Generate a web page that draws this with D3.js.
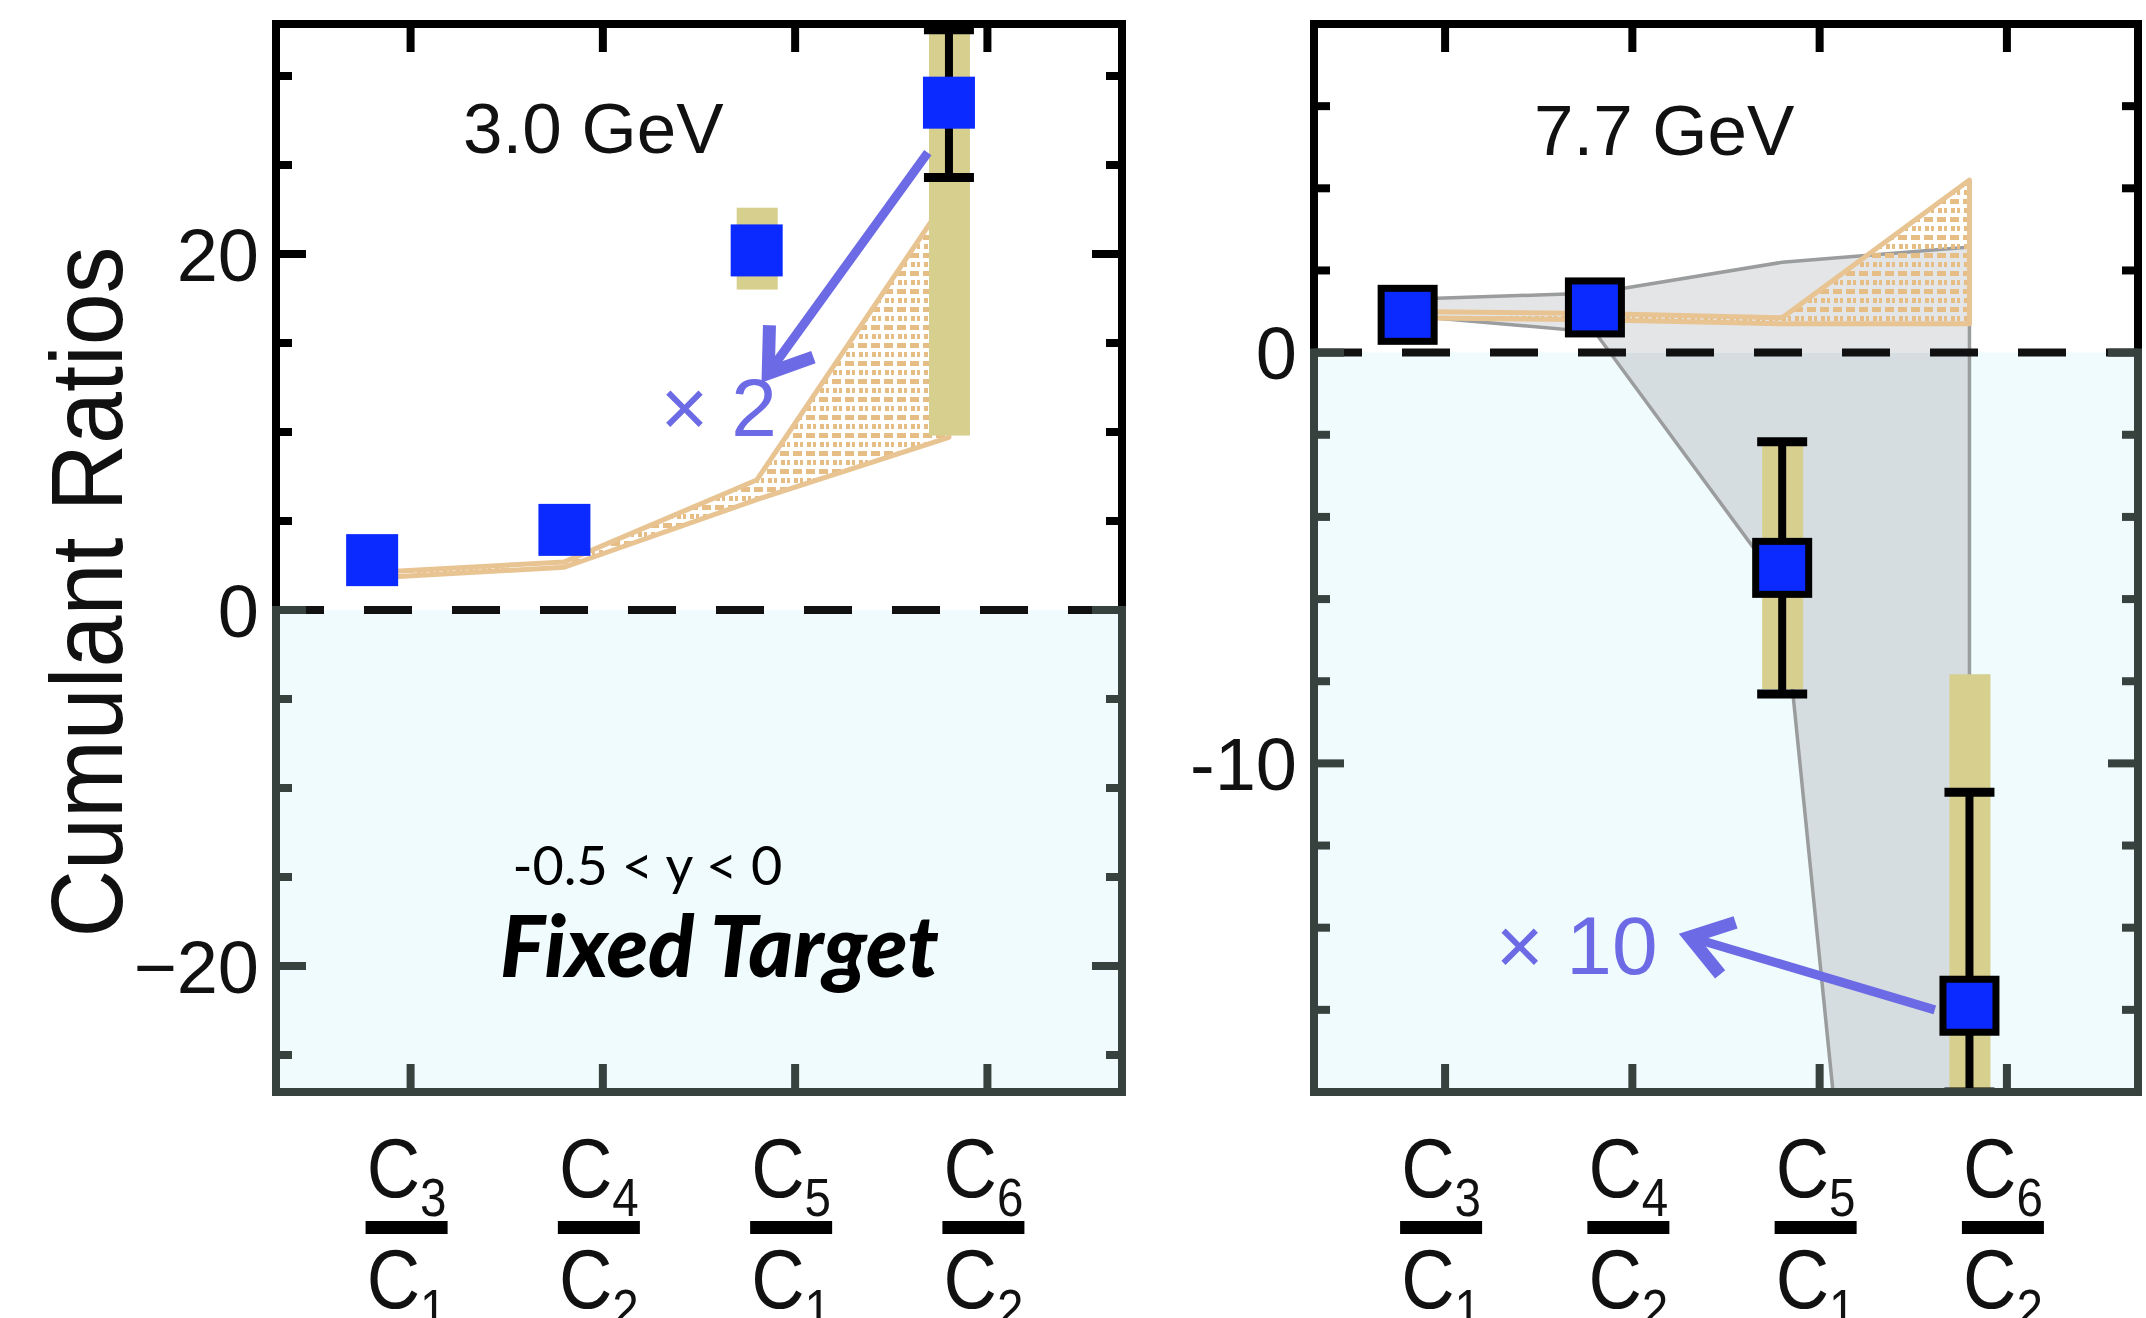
<!DOCTYPE html>
<html>
<head>
<meta charset="utf-8">
<script src="https://cdn.jsdelivr.net/npm/d3@7"></script>
<style>
  html, body { margin: 0; padding: 0; background: #fff; }
  svg { display: block; }
</style>
</head>
<body>
<div id="chart"></div>
<script>
// Categories: C_n / C_m
const ratioNum = [3, 4, 5, 6];
const ratioDen = [1, 2, 1, 2];
const catPos = [1, 2, 3, 4];

// 3.0 GeV (fixed target)
const val3 = [2.8, 4.5, 20.2, 28.5];
const statLo3 = [null, null, null, 24.3];
const statHi3 = [null, null, null, 32.6];
const sysLo3 = [null, null, 18.0, 9.8];
const sysHi3 = [null, null, 22.6, 47.0];
const modelLo3 = [1.8, 2.4, 6.2, 9.7];
const modelHi3 = [2.1, 2.7, 7.3, 23.3];
const yTicks3 = [-20, 0, 20];
const yTickLabels3 = ["\u221220", "0", "20"];
const yMinor3 = [-25, -15, -10, -5, 5, 10, 15, 25, 30];

// 7.7 GeV
const val7 = [0.92, 1.1, -5.24, -15.9];
const statLo7 = [null, null, -8.31, -18.0];
const statHi7 = [null, null, -2.17, -10.7];
const sysLo7 = [null, null, -8.19, -30.0];
const sysHi7 = [null, null, -2.27, -7.83];
const modelLo7 = [0.85, 0.8, 0.7, 0.7];
const modelHi7 = [1.0, 0.95, 0.85, 4.2];
const grayLo7 = [0.9, 0.5, -5.7, -51];
const grayHi7 = [1.3, 1.45, 2.2, 2.57];
const yTicks7 = [-10, 0];
const yTickLabels7 = ["-10", "0"];
const yMinor7 = [-16, -14, -12, -8, -6, -4, -2, 2, 4, 6];

// annotations (data units)
const arrow3 = [[3.69, 25.7], [2.86, 13.3]];
const arrow7 = [[3.615, -16.0], [2.307, -14.23]];

const W = 2146, H = 1318;
const shift = -0.2;           // markers sit left of the tick
const dark = "#37423f";       // frame colour below zero
const blue = "#0a2aff";
const khaki = "#d7cf8d";
const tan = "#e8c493";
const violet = "#6c6ae4";

const svg = d3.select("#chart")
  .append("svg")
    .attr("width", W)
    .attr("height", H);

const defs = svg.append("defs");

// brick-like dotted hatch of the model band
const pat = defs.append("pattern")
  .attr("id", "hatch")
  .attr("patternUnits", "userSpaceOnUse")
  .attr("width", 13).attr("height", 18);
pat.append("rect").attr("x", 0).attr("y", 1).attr("width", 9).attr("height", 5).attr("fill", "#e6bd85");
pat.append("rect").attr("x", 1).attr("y", 10).attr("width", 4).attr("height", 5).attr("fill", "#e6bd85");
pat.append("rect").attr("x", 7).attr("y", 10).attr("width", 3).attr("height", 5).attr("fill", "#e6bd85");

function drawPanel(p) {
  const x = d3.scaleLinear().domain([0.3, 4.7]).range([p.left, p.right]);
  const y = d3.scaleLinear().domain(p.yDomain).range([p.bottom, p.top]);
  const xm = i => x(catPos[i] + shift);
  const idx = d3.range(catPos.length);
  const w = p.right - p.left;

  defs.append("clipPath").attr("id", "clip" + p.id)
    .append("rect")
      .attr("x", p.left).attr("y", p.top)
      .attr("width", w).attr("height", p.bottom - p.top);
  defs.append("clipPath").attr("id", "up" + p.id)
    .append("rect")
      .attr("x", p.left).attr("y", p.top)
      .attr("width", w).attr("height", y(0) - p.top);
  defs.append("clipPath").attr("id", "down" + p.id)
    .append("rect")
      .attr("x", p.left).attr("y", y(0))
      .attr("width", w).attr("height", p.bottom - y(0));

  const plot = svg.append("g").attr("clip-path", `url(#clip${p.id})`);

  // background: white above zero, pale cyan below
  plot.append("rect")
    .attr("x", p.left).attr("y", p.top)
    .attr("width", w).attr("height", p.bottom - p.top)
    .attr("fill", "#fff");
  plot.append("rect")
    .attr("x", p.left).attr("y", y(0))
    .attr("width", w).attr("height", p.bottom - y(0))
    .attr("fill", "#effbfc");

  // grey model band (lighter above zero, bluish grey below)
  if (p.grayLo) {
    const grayArea = d3.area().x(xm).y0(i => y(p.grayLo[i])).y1(i => y(p.grayHi[i]));
    [["up", "#e4e5e6"], ["down", "#d6dde0"]].forEach(([c, f]) => {
      plot.append("path")
        .datum(idx)
        .attr("clip-path", `url(#${c}${p.id})`)
        .attr("d", grayArea)
        .attr("fill", f);
    });
    plot.append("path")
      .datum(idx)
      .attr("d", grayArea)
      .attr("fill", "none")
      .attr("stroke", "#9a9c9d")
      .attr("stroke-width", 3.5);
  }

  // tan hatched model band
  plot.append("path")
    .datum(idx)
    .attr("d", d3.area().x(xm).y0(i => y(p.modelLo[i])).y1(i => y(p.modelHi[i])))
    .attr("fill", "url(#hatch)")
    .attr("stroke", tan)
    .attr("stroke-width", 5)
    .attr("stroke-linejoin", "round");

  // zero line
  plot.append("line")
    .attr("x1", p.left).attr("x2", p.right)
    .attr("y1", y(0)).attr("y2", y(0))
    .attr("stroke", "#111")
    .attr("stroke-width", 8)
    .attr("stroke-dasharray", "48,40");

  // systematic boxes
  plot.selectAll("rect.sys")
    .data(idx.filter(i => p.sysLo[i] !== null))
    .enter().append("rect")
      .attr("class", "sys")
      .attr("x", i => xm(i) - 20)
      .attr("width", 41)
      .attr("y", i => y(p.sysHi[i]))
      .attr("height", i => y(p.sysLo[i]) - y(p.sysHi[i]))
      .attr("fill", khaki);

  // statistical error bars
  const withStat = idx.filter(i => p.statLo[i] !== null);
  plot.selectAll("line.stat")
    .data(withStat)
    .enter().append("line")
      .attr("x1", xm).attr("x2", xm)
      .attr("y1", i => y(p.statLo[i])).attr("y2", i => y(p.statHi[i]))
      .attr("stroke", "#000").attr("stroke-width", 8);
  ["statLo", "statHi"].forEach(k => {
    plot.selectAll("line." + k)
      .data(withStat)
      .enter().append("line")
        .attr("x1", i => xm(i) - 25).attr("x2", i => xm(i) + 25)
        .attr("y1", i => y(p[k][i])).attr("y2", i => y(p[k][i]))
        .attr("stroke", "#000").attr("stroke-width", 9);
  });

  // markers
  const s = p.outlined ? 53 : 52;
  plot.selectAll("rect.pt")
    .data(idx)
    .enter().append("rect")
      .attr("x", i => xm(i) - s / 2)
      .attr("y", i => y(p.values[i]) - s / 2)
      .attr("width", s).attr("height", s)
      .attr("fill", blue)
      .attr("stroke", p.outlined ? "#000" : "none")
      .attr("stroke-width", 7);

  // scale-factor arrow
  const [a0, a1] = p.arrow.map(([u, v]) => [x(u), y(v)]);
  const ang = Math.atan2(a1[1] - a0[1], a1[0] - a0[0]);
  const hl = 48, spread = 0.6;
  plot.append("line")
    .attr("x1", a0[0]).attr("y1", a0[1])
    .attr("x2", a1[0] - 4 * Math.cos(ang)).attr("y2", a1[1] - 4 * Math.sin(ang))
    .attr("stroke", violet).attr("stroke-width", 9);
  plot.append("path")
    .attr("d", d3.line()([
      [a1[0] - hl * Math.cos(ang - spread), a1[1] - hl * Math.sin(ang - spread)],
      a1,
      [a1[0] - hl * Math.cos(ang + spread), a1[1] - hl * Math.sin(ang + spread)]
    ]))
    .attr("fill", "none").attr("stroke", violet).attr("stroke-width", 13)
    .attr("stroke-linejoin", "miter");

  plot.append("text")
    .attr("x", x(p.factorAt[0])).attr("y", y(p.factorAt[1]))
    .attr("fill", violet)
    .attr("font-family", "'Liberation Sans', Arial, sans-serif")
    .attr("font-size", 82)
    .text(p.factor);

  // energy label
  plot.append("text")
    .attr("x", x(p.titleAt[0])).attr("y", y(p.titleAt[1]))
    .attr("text-anchor", "middle")
    .attr("font-family", "'Liberation Sans', Arial, sans-serif")
    .attr("font-size", 71)
    .attr("fill", "#111")
    .text(p.title);

  // frame: black above zero, dark slate below
  const fr = svg.append("g").attr("fill", "none").attr("stroke-width", 8);
  fr.append("path")
    .attr("d", `M${p.left},${y(0)}V${p.top}H${p.right}V${y(0)}`)
    .attr("stroke", "#000").attr("stroke-linecap", "square");
  fr.append("path")
    .attr("d", `M${p.left},${y(0)}V${p.bottom}H${p.right}V${y(0)}`)
    .attr("stroke", dark).attr("stroke-linecap", "square");

  // inward ticks
  const tick = (v, len) => {
    const c = v > 0 ? "#000" : dark;
    [[p.left, len], [p.right, -len]].forEach(([x0, d]) => {
      fr.append("line")
        .attr("x1", x0).attr("x2", x0 + d)
        .attr("y1", y(v)).attr("y2", y(v))
        .attr("stroke", c).attr("stroke-width", 8);
    });
  };
  p.yMinor.forEach(v => tick(v, 16));
  p.yTicks.forEach(v => tick(v, 30));
  catPos.forEach(c => {
    fr.append("line")
      .attr("x1", x(c)).attr("x2", x(c))
      .attr("y1", p.top).attr("y2", p.top + 28)
      .attr("stroke", "#000").attr("stroke-width", 8);
    fr.append("line")
      .attr("x1", x(c)).attr("x2", x(c))
      .attr("y1", p.bottom).attr("y2", p.bottom - 28)
      .attr("stroke", dark).attr("stroke-width", 8);
  });

  // y tick labels
  svg.append("g")
    .selectAll("text")
    .data(p.yTicks)
    .enter().append("text")
      .attr("x", p.left - 17)
      .attr("y", v => y(v))
      .attr("dy", "0.36em")
      .attr("text-anchor", "end")
      .attr("font-family", "'Liberation Sans', Arial, sans-serif")
      .attr("font-size", 74)
      .attr("fill", "#111")
      .text((v, i) => p.yTickLabels[i]);

  // x labels as fractions C_n / C_m (slightly condensed type)
  catPos.forEach((c, i) => {
    const cx = x(c) - 4;
    const xl = svg.append("g")
      .attr("transform", `translate(${cx},0)`)
      .attr("font-family", "'Liberation Sans', Arial, sans-serif")
      .attr("fill", "#111");
    [[ratioNum[i], 1197], [ratioDen[i], 1308]].forEach(([sub, base]) => {
      const t = xl.append("text")
        .attr("transform", `translate(0,${base}) scale(0.88,1)`)
        .attr("text-anchor", "middle")
        .attr("font-size", 84);
      t.append("tspan").text("C");
      t.append("tspan").attr("font-size", 54).attr("dy", 19).text(sub);
    });
    xl.append("rect")
      .attr("x", -41).attr("y", 1221)
      .attr("width", 82).attr("height", 13)
      .attr("fill", "#000");
  });

  return { x, y };
}

const p1 = drawPanel({
  id: 1, left: 276, right: 1122, top: 24, bottom: 1092,
  yDomain: [-27.08, 32.92],
  values: val3, statLo: statLo3, statHi: statHi3, sysLo: sysLo3, sysHi: sysHi3,
  modelLo: modelLo3, modelHi: modelHi3,
  yTicks: yTicks3, yTickLabels: yTickLabels3, yMinor: yMinor3,
  outlined: false,
  arrow: arrow3, factor: "\u00d7 2", factorAt: [2.3, 9.8],
  title: "3.0 GeV", titleAt: [1.95, 25.7]
});

const p2 = drawPanel({
  id: 2, left: 1314, right: 2138, top: 24, bottom: 1092,
  yDomain: [-18, 8],
  values: val7, statLo: statLo7, statHi: statHi7, sysLo: sysLo7, sysHi: sysHi7,
  modelLo: modelLo7, modelHi: modelHi7, grayLo: grayLo7, grayHi: grayHi7,
  yTicks: yTicks7, yTickLabels: yTickLabels7, yMinor: yMinor7,
  outlined: true,
  arrow: arrow7, factor: "\u00d7 10", factorAt: [1.27, -15.13],
  title: "7.7 GeV", titleAt: [2.17, 4.81]
});

// rapidity window and "Fixed Target" tag in the 3.0 GeV panel
svg.append("text")
  .attr("x", p1.x(1.53)).attr("y", p1.y(-15.45))
  .attr("font-family", "Lato, sans-serif")
  .attr("font-size", 54)
  .attr("fill", "#000")
  .text("-0.5 < y < 0");

svg.append("text")
  .attr("x", p1.x(1.465)).attr("y", p1.y(-20.62))
  .attr("font-family", "Lato, sans-serif")
  .attr("font-weight", 900)
  .attr("font-style", "italic")
  .attr("font-size", 85)
  .attr("fill", "#000")
  .text("Fixed Target");

// y-axis title
svg.append("text")
  .attr("transform", "translate(122,592) rotate(-90)")
  .attr("text-anchor", "middle")
  .attr("font-family", "'Liberation Sans', Arial, sans-serif")
  .attr("font-size", 102)
  .attr("textLength", 691)
  .attr("lengthAdjust", "spacingAndGlyphs")
  .attr("fill", "#111")
  .text("Cumulant Ratios");
</script>
</body>
</html>
